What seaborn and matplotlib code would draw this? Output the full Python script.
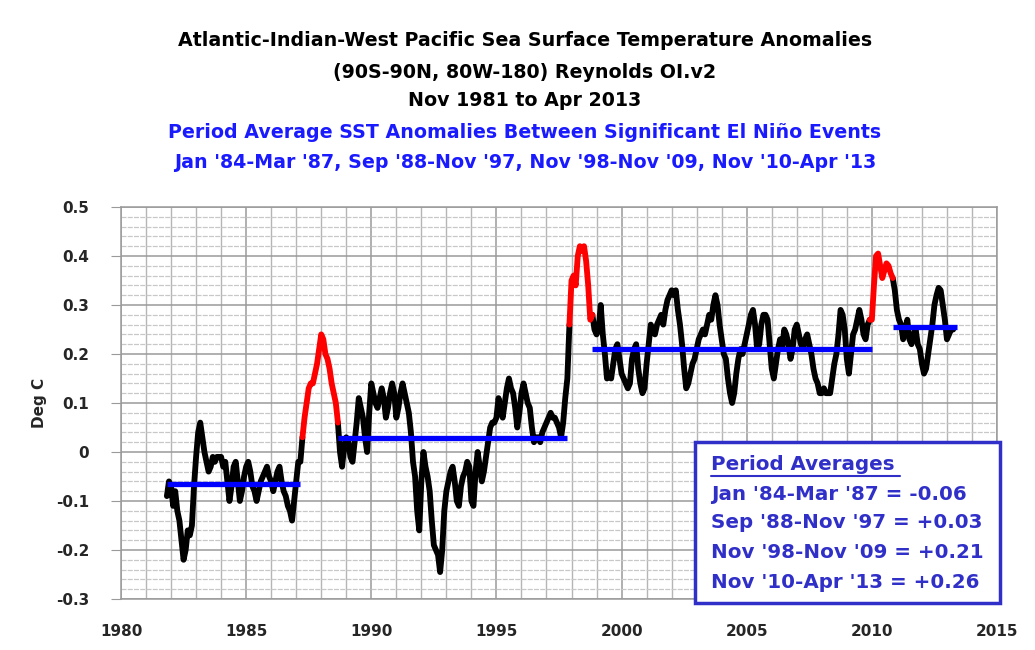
import numpy as np
import pandas as pd
import matplotlib
matplotlib.use("Agg")
import matplotlib.pyplot as plt
from matplotlib.patches import Rectangle
from matplotlib.lines import Line2D
import seaborn as sns

# ---------------- data (monthly SST anomalies, Nov 1981 - Apr 2013) ----------------
start_year = 1981 + 10 / 12.0   # Nov 1981
anomaly = [
    -0.09, -0.06,                                                                  # 1981 Nov-Dec
    -0.07, -0.11, -0.08, -0.12, -0.14, -0.18, -0.22, -0.20, -0.16, -0.17, -0.15, -0.07,  # 1982
    -0.01, 0.04, 0.06, 0.03, 0.00, -0.02, -0.04, -0.03, -0.01, -0.02, -0.01, -0.01,     # 1983
    -0.01, -0.03, -0.02, -0.06, -0.10, -0.07, -0.03, -0.02, -0.06, -0.10, -0.08, -0.05,  # 1984
    -0.03, -0.02, -0.04, -0.07, -0.08, -0.10, -0.08, -0.06, -0.05, -0.04, -0.03, -0.05,  # 1985
    -0.06, -0.08, -0.06, -0.04, -0.03, -0.06, -0.08, -0.09, -0.11, -0.12, -0.14, -0.10,  # 1986
    -0.06, -0.02, -0.02, 0.03, 0.07, 0.10, 0.13, 0.14, 0.14, 0.16, 0.18, 0.21,          # 1987
    0.24, 0.23, 0.20, 0.19, 0.17, 0.14, 0.12, 0.10, 0.06, 0.00, -0.03, 0.01,           # 1988
    0.03, 0.02, -0.01, -0.02, 0.02, 0.06, 0.11, 0.09, 0.07, 0.03, 0.00, 0.08,          # 1989
    0.14, 0.12, 0.10, 0.09, 0.11, 0.13, 0.11, 0.07, 0.09, 0.12, 0.14, 0.12,            # 1990
    0.07, 0.09, 0.12, 0.14, 0.12, 0.10, 0.08, 0.04, -0.02, -0.05, -0.12, -0.16,        # 1991
    -0.06, 0.00, -0.03, -0.05, -0.08, -0.14, -0.19, -0.20, -0.21, -0.245, -0.20, -0.12,  # 1992
    -0.08, -0.06, -0.04, -0.03, -0.06, -0.10, -0.11, -0.07, -0.05, -0.04, -0.02, -0.03,  # 1993
    -0.10, -0.11, -0.04, 0.00, -0.03, -0.06, -0.04, -0.01, 0.02, 0.05, 0.06, 0.06,     # 1994
    0.07, 0.11, 0.09, 0.07, 0.10, 0.13, 0.15, 0.13, 0.12, 0.09, 0.05, 0.08,            # 1995
    0.12, 0.14, 0.12, 0.10, 0.09, 0.05, 0.02, 0.03, 0.03, 0.02, 0.04, 0.05,            # 1996
    0.06, 0.07, 0.08, 0.07, 0.07, 0.06, 0.05, 0.03, 0.06, 0.11, 0.15, 0.26,            # 1997
    0.35, 0.36, 0.34, 0.40, 0.42, 0.41, 0.42, 0.39, 0.34, 0.27, 0.28, 0.25,            # 1998
    0.24, 0.25, 0.30, 0.24, 0.20, 0.15, 0.16, 0.15, 0.18, 0.21, 0.22, 0.19,            # 1999
    0.16, 0.15, 0.14, 0.13, 0.14, 0.19, 0.21, 0.22, 0.17, 0.14, 0.12, 0.13,            # 2000
    0.18, 0.22, 0.26, 0.25, 0.24, 0.26, 0.27, 0.28, 0.26, 0.29, 0.31, 0.32,            # 2001
    0.33, 0.32, 0.33, 0.29, 0.26, 0.22, 0.17, 0.13, 0.14, 0.16, 0.18, 0.19,            # 2002
    0.21, 0.23, 0.24, 0.25, 0.24, 0.26, 0.28, 0.27, 0.30, 0.32, 0.30, 0.26,            # 2003
    0.23, 0.20, 0.19, 0.15, 0.12, 0.10, 0.12, 0.16, 0.19, 0.21, 0.20, 0.22,            # 2004
    0.24, 0.26, 0.28, 0.29, 0.26, 0.21, 0.22, 0.26, 0.28, 0.28, 0.27, 0.22,            # 2005
    0.17, 0.15, 0.18, 0.21, 0.23, 0.21, 0.25, 0.24, 0.22, 0.19, 0.21, 0.25,            # 2006
    0.26, 0.24, 0.22, 0.21, 0.23, 0.24, 0.22, 0.20, 0.17, 0.15, 0.14, 0.12,            # 2007
    0.12, 0.13, 0.12, 0.12, 0.12, 0.15, 0.18, 0.20, 0.24, 0.29, 0.28, 0.25,            # 2008
    0.19, 0.16, 0.20, 0.24, 0.25, 0.27, 0.29, 0.27, 0.24, 0.23, 0.26, 0.27,            # 2009
    0.27, 0.34, 0.40, 0.405, 0.38, 0.355, 0.37, 0.385, 0.38, 0.365, 0.355, 0.33,       # 2010
    0.29, 0.27, 0.26, 0.23, 0.25, 0.27, 0.23, 0.22, 0.24, 0.25, 0.22, 0.21,            # 2011
    0.18, 0.16, 0.17, 0.20, 0.23, 0.26, 0.30, 0.32, 0.335, 0.33, 0.30, 0.27,           # 2012
    0.23, 0.24, 0.25, 0.25,                                                             # 2013 Jan-Apr
]

# El Nino periods (drawn in red): Apr 87-Aug 88, Dec 97-Oct 98, Dec 09-Oct 10
nino_start = [1987 + 3 / 12, 1997 + 11 / 12, 2009 + 11 / 12]
nino_end = [1988 + 7 / 12, 1998 + 9 / 12, 2010 + 9 / 12]

# Period averages (blue lines)
avg_start = [1981 + 10 / 12, 1988 + 8 / 12, 1998 + 10 / 12, 2010 + 10 / 12]
avg_end = [1987 + 2 / 12, 1997 + 10 / 12, 2010 + 0 / 12, 2013 + 5 / 12]
avg_value = [-0.065, 0.028, 0.21, 0.256]

title_lines = [
    "Atlantic-Indian-West Pacific Sea Surface Temperature Anomalies",
    "(90S-90N, 80W-180) Reynolds OI.v2",
    "Nov 1981 to Apr 2013",
    "Period Average SST Anomalies Between Significant El Niño Events",
    "Jan '84-Mar '87, Sep '88-Nov '97, Nov '98-Nov '09, Nov '10-Apr '13",
]
box_title = "Period Averages"
box_lines = [
    "Jan '84-Mar '87 = -0.06",
    "Sep '88-Nov '97 = +0.03",
    "Nov '98-Nov '09 = +0.21",
    "Nov '10-Apr '13 = +0.26",
]
x_ticks = [1980, 1985, 1990, 1995, 2000, 2005, 2010, 2015]
y_ticks = [-0.3, -0.2, -0.1, 0.0, 0.1, 0.2, 0.3, 0.4, 0.5]

# ---------------- build data frame ----------------
n = len(anomaly)
t = start_year + np.arange(n) / 12.0
df = pd.DataFrame({"year": t, "anom": anomaly})
eps = 1e-6
df["nino"] = False
for s, e in zip(nino_start, nino_end):
    df.loc[(df["year"] >= s - eps) & (df["year"] <= e + eps), "nino"] = True
df["seg"] = (df["nino"] != df["nino"].shift()).cumsum()

# ---------------- plot ----------------
sns.set_style("white")
plt.rcParams["font.family"] = ["DejaVu Sans"]
plt.rcParams["font.weight"] = "bold"

fig = plt.figure(figsize=(10.35, 6.5), dpi=100)
ax = fig.add_axes([121 / 1035, 1 - 599 / 650, (997 - 121) / 1035, (599 - 207) / 650])

# grid
ax.set_xlim(1980, 2015)
ax.set_ylim(-0.3, 0.5)
ax.set_xticks(x_ticks)
ax.set_xticks(np.arange(1980, 2016, 1), minor=True)
ax.set_yticks(y_ticks)
ax.set_yticks(np.arange(-0.3, 0.501, 0.02), minor=True)
ax.grid(which="major", axis="both", color="#9a9a9a", lw=1.1, zorder=0)
ax.grid(which="minor", axis="x", color="#b5b5b5", lw=1.0, zorder=0)
ax.grid(which="minor", axis="y", color="#c8c8c8", lw=0.9, ls=(0, (4, 1)), zorder=0)
ax.set_axisbelow(True)

segs = sorted(df["seg"].unique())
for k, sid in enumerate(segs):
    part = df[df["seg"] == sid]
    idx = list(part.index)
    if idx[-1] + 1 < n:
        idx.append(idx[-1] + 1)
    part = df.loc[idx]
    col = "#ff0000" if part["nino"].iloc[0] else "#000000"
    sns.lineplot(data=part, x="year", y="anom", ax=ax, color=col, lw=4.2,
                 sort=False, estimator=None, zorder=3 if col == "#000000" else 4)

ax.hlines(avg_value, avg_start, avg_end, colors="#0000ff", lw=3.8, zorder=5)

ax.set_xlabel("")
ax.set_ylabel("Deg C", fontsize=11, fontweight="bold", labelpad=6)
ax.set_xticklabels([str(v) for v in x_ticks])
ax.set_yticklabels(["0" if abs(v) < 1e-9 else f"{v:.1f}" for v in y_ticks])
ax.tick_params(axis="both", which="major", labelsize=11, length=7, color="#9a9a9a",
               direction="out", left=True, bottom=False)
ax.tick_params(axis="y", pad=16)
ax.tick_params(axis="x", pad=11)
ax.tick_params(which="minor", length=0)
for lab in ax.get_xticklabels() + ax.get_yticklabels():
    lab.set_fontweight("bold")
for sp in ax.spines.values():
    sp.set_color("#9a9a9a")
    sp.set_linewidth(1.1)

# titles
title_y = [40, 72, 101, 133, 163]
title_col = ["#000000", "#000000", "#000000", "#1a1aff", "#1a1aff"]
for txt, yy, c in zip(title_lines, title_y, title_col):
    fig.text(525 / 1035, 1 - yy / 650, txt, ha="center", va="center",
             fontsize=13.7, fontweight="bold", color=c)

# period averages box
box_col = "#3030c8"
fig.patches.append(Rectangle((695 / 1035, 1 - 603 / 650), 305 / 1035, 161 / 650,
                             transform=fig.transFigure, facecolor="white",
                             edgecolor=box_col, lw=2.5, zorder=10))
fig.text(711 / 1035, 1 - 465 / 650, box_title, ha="left", va="center",
         fontsize=14.3, fontweight="bold", color=box_col, zorder=11)
fig.lines.append(Line2D([711 / 1035, 900 / 1035], [1 - 476 / 650, 1 - 476 / 650],
                        transform=fig.transFigure, color=box_col, lw=1.5, zorder=11))
for txt, yy in zip(box_lines, [495, 523, 552, 582]):
    fig.text(711 / 1035, 1 - yy / 650, txt, ha="left", va="center",
             fontsize=14.3, fontweight="bold", color=box_col, zorder=11)

fig.savefig("out.png", dpi=100, facecolor="white")
